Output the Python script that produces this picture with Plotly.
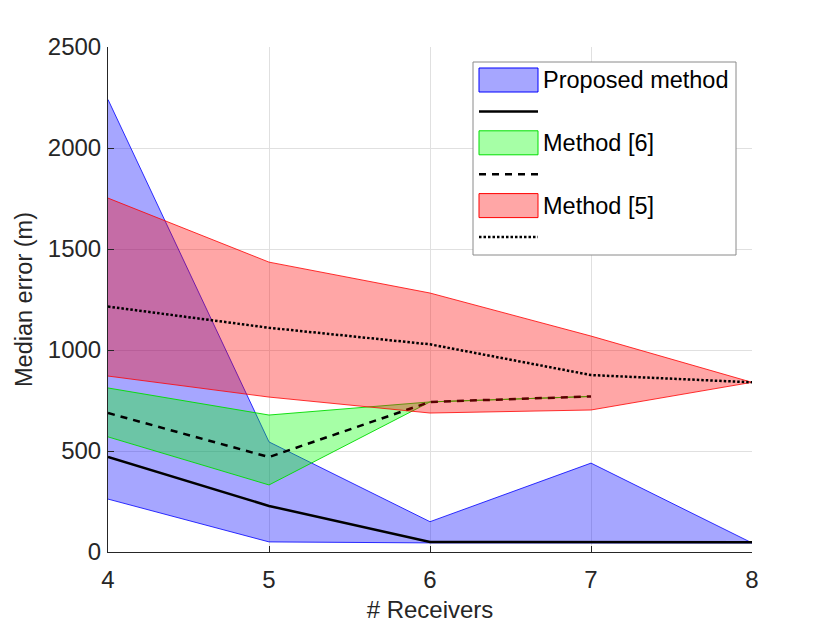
import plotly.graph_objects as go

# values
receivers = [4, 5, 6, 7, 8]

proposed_median = [470, 228, 50, 50, 48]
proposed_upper = [2240, 545, 150, 440, 45]
proposed_lower = [262, 50, 45, 45, 45]

m6_receivers = [4, 5, 6, 7]
m6_median = [688, 470, 743, 770]
m6_upper = [812, 678, 743, 770]
m6_lower = [570, 332, 743, 770]

m5_median = [1215, 1110, 1028, 876, 840]
m5_upper = [1752, 1435, 1282, 1069, 840]
m5_lower = [871, 767, 688, 703, 840]

x_ticks = [4, 5, 6, 7, 8]
y_ticks = [0, 500, 1000, 1500, 2000, 2500]

legend_labels = ["Proposed method", "Method [6]", "Method [5]"]

FONT = "Liberation Sans, Arial, sans-serif"
DASH = "7px,6px"
DOT = "2.5px,2px"
# the page has an 8px body margin, keep the figure inside the 830x623 window
W, H = 822, 615
ML, MT = 100, 39
PW, PH = 644, 505
MR, MB = W - ML - PW, H - MT - PH
# plot area corners as seen in the screenshot
LEFT, BOTTOM = ML + 8, MT + 8 + PH


def band(fig, xs, upper, lower, fill, edge):
    fig.add_trace(go.Scatter(
        x=xs + xs[::-1], y=upper + lower[::-1],
        fill="toself", fillcolor=fill, mode="lines",
        line=dict(color=edge, width=1),
        showlegend=False, hoverinfo="skip"))


def median(fig, xs, ys, dash):
    fig.add_trace(go.Scatter(
        x=xs, y=ys, mode="lines",
        line=dict(color="black", width=2.5, dash=dash),
        showlegend=False))


def px_x(px):
    return (px - LEFT) / PW


def px_y(py):
    return (BOTTOM - py) / PH


fig = go.Figure()

band(fig, receivers, proposed_upper, proposed_lower, "rgba(0,0,255,0.35)", "rgba(0,0,255,0.8)")
median(fig, receivers, proposed_median, "solid")
band(fig, m6_receivers, m6_upper, m6_lower, "rgba(0,255,0,0.35)", "rgba(0,220,0,0.9)")
median(fig, m6_receivers, m6_median, DASH)
band(fig, receivers, m5_upper, m5_lower, "rgba(255,0,0,0.35)", "rgba(255,0,0,0.8)")
median(fig, receivers, m5_median, DOT)

# legend drawn by hand so it looks like the original one
shapes = [dict(type="rect", xref="paper", yref="paper",
               x0=px_x(473), x1=px_x(736), y0=px_y(255), y1=px_y(62),
               line=dict(color="#8a8a8a", width=1), fillcolor="white", layer="above")]
annotations = []
patch_fill = ["rgba(0,0,255,0.35)", "rgba(0,255,0,0.35)", "rgba(255,0,0,0.35)"]
patch_edge = ["blue", "#00e000", "red"]
line_dash = ["solid", DASH, DOT]
row_top = 80
row_gap = 31.4
for i, label in enumerate(legend_labels):
    cy = row_top + 2 * i * row_gap
    shapes.append(dict(type="rect", xref="paper", yref="paper",
                       x0=px_x(479), x1=px_x(538), y0=px_y(cy + 12), y1=px_y(cy - 12),
                       fillcolor=patch_fill[i], line=dict(color=patch_edge[i], width=1),
                       layer="above"))
    annotations.append(dict(xref="paper", yref="paper", x=px_x(541), y=px_y(cy),
                            text=label, showarrow=False, xanchor="left", yanchor="middle",
                            font=dict(family=FONT, size=23.5, color="black")))
    ly = cy + row_gap
    shapes.append(dict(type="line", xref="paper", yref="paper",
                       x0=px_x(479), x1=px_x(538), y0=px_y(ly), y1=px_y(ly),
                       line=dict(color="black", width=2.5, dash=line_dash[i]),
                       layer="above"))

axis_common = dict(
    showgrid=True, gridcolor="#e0e0e0", gridwidth=1,
    showline=True, linecolor="#262626", linewidth=1,
    ticks="inside", ticklen=6, tickcolor="#262626",
    zeroline=False, automargin=False,
    tickfont=dict(family=FONT, size=24, color="#262626"),
)

fig.update_layout(
    width=W, height=H,
    margin=dict(l=ML, r=MR, t=MT, b=MB),
    paper_bgcolor="white", plot_bgcolor="white",
    shapes=shapes, annotations=annotations,
    xaxis=dict(range=[4, 8], tickvals=x_ticks, ticklabelstandoff=6,
               title=dict(text="# Receivers", standoff=10,
                          font=dict(family=FONT, size=24, color="#262626")),
               **axis_common),
    yaxis=dict(range=[0, 2500], tickvals=y_ticks, ticklabelstandoff=1,
               title=dict(text="Median error (m)", standoff=8,
                          font=dict(family=FONT, size=23.5, color="#262626")),
               **axis_common),
)

fig.write_html("out.html")
